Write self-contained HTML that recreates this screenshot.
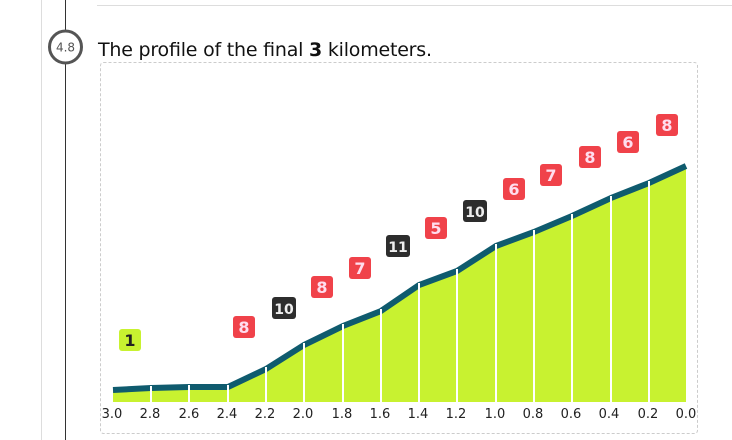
<!DOCTYPE html>
<html><head><meta charset="utf-8"><style>
body{margin:0;width:732px;height:440px;background:#fff;overflow:hidden;font-family:"DejaVu Sans","Liberation Sans",sans-serif;}
</style></head><body>
<svg width="732" height="440" xmlns="http://www.w3.org/2000/svg" style="position:absolute;left:0;top:0">
<line x1="41.5" y1="0" x2="41.5" y2="440" stroke="#ddd"/>
<line x1="65.5" y1="0" x2="65.5" y2="440" stroke="#333"/>
<line x1="97" y1="5.5" x2="732" y2="5.5" stroke="#ddd"/>
<circle cx="65.5" cy="47" r="16" fill="#fff" stroke="#555" stroke-width="3"/>
<text x="65.5" y="51.5" font-size="12" text-anchor="middle" fill="#555" font-family="DejaVu Sans,sans-serif">4.8</text>
<text x="98" y="56" font-size="19" fill="#111" font-family="DejaVu Sans,sans-serif" textLength="334">The profile of the final <tspan font-weight="bold">3</tspan> kilometers.</text>
<rect x="100.5" y="62.5" width="597" height="371" rx="3" fill="none" stroke="#ccc" stroke-dasharray="3,2"/>
<polygon fill="#c8f230" points="113,390 151,388 189,387 228,387 266,369 304,345 343,326 381,311 419,285 457,271 496,246 534,232 572,216 611,198 649,183 686,166 686,402 113,402"/>
<polyline fill="none" stroke="#0f5b6e" stroke-width="6" points="113,390 151,388 189,387 228,387 266,369 304,345 343,326 381,311 419,285 457,271 496,246 534,232 572,216 611,198 649,183 686,166"/>
<g stroke="#fff" stroke-width="2">
<line x1="151" y1="386" x2="151" y2="402"/><line x1="189" y1="385" x2="189" y2="402"/><line x1="228" y1="385" x2="228" y2="402"/><line x1="266" y1="367" x2="266" y2="402"/><line x1="304" y1="343" x2="304" y2="402"/><line x1="343" y1="324" x2="343" y2="402"/><line x1="381" y1="309" x2="381" y2="402"/><line x1="419" y1="283" x2="419" y2="402"/><line x1="457" y1="269" x2="457" y2="402"/><line x1="496" y1="244" x2="496" y2="402"/><line x1="534" y1="230" x2="534" y2="402"/><line x1="572" y1="214" x2="572" y2="402"/><line x1="611" y1="196" x2="611" y2="402"/><line x1="649" y1="181" x2="649" y2="402"/>
</g>
<g font-size="13" text-anchor="middle" fill="#222" font-family="DejaVu Sans,sans-serif">
<text x="112" y="418">3.0</text><text x="150" y="418">2.8</text><text x="189" y="418">2.6</text><text x="227" y="418">2.4</text><text x="265" y="418">2.2</text><text x="303" y="418">2.0</text><text x="342" y="418">1.8</text><text x="380" y="418">1.6</text><text x="418" y="418">1.4</text><text x="456" y="418">1.2</text><text x="495" y="418">1.0</text><text x="533" y="418">0.8</text><text x="571" y="418">0.6</text><text x="609" y="418">0.4</text><text x="648" y="418">0.2</text><text x="686" y="418">0.0</text>
</g>
<g font-size="16" font-weight="bold" text-anchor="middle" font-family="DejaVu Sans,sans-serif">
<rect x="119" y="329" width="22" height="22" rx="3" fill="#c8f230"/><text x="130" y="346" fill="#222">1</text>
<rect x="233" y="316" width="22" height="22" rx="3" fill="#f0424a"/><text x="244" y="333" fill="#fde">8</text>
<rect x="272" y="297" width="24" height="22" rx="3" fill="#2d2d2d"/><text x="284" y="314" fill="#eee" font-size="14">10</text>
<rect x="311" y="276" width="22" height="22" rx="3" fill="#f0424a"/><text x="322" y="293" fill="#fde">8</text>
<rect x="349" y="257" width="22" height="22" rx="3" fill="#f0424a"/><text x="360" y="274" fill="#fde">7</text>
<rect x="386" y="235" width="24" height="22" rx="3" fill="#2d2d2d"/><text x="398" y="252" fill="#eee" font-size="14">11</text>
<rect x="425" y="217" width="22" height="22" rx="3" fill="#f0424a"/><text x="436" y="234" fill="#fde">5</text>
<rect x="463" y="200" width="24" height="22" rx="3" fill="#2d2d2d"/><text x="475" y="217" fill="#eee" font-size="14">10</text>
<rect x="503" y="178" width="22" height="22" rx="3" fill="#f0424a"/><text x="514" y="195" fill="#fde">6</text>
<rect x="540" y="164" width="22" height="22" rx="3" fill="#f0424a"/><text x="551" y="181" fill="#fde">7</text>
<rect x="579" y="146" width="22" height="22" rx="3" fill="#f0424a"/><text x="590" y="163" fill="#fde">8</text>
<rect x="617" y="131" width="22" height="22" rx="3" fill="#f0424a"/><text x="628" y="148" fill="#fde">6</text>
<rect x="656" y="114" width="22" height="22" rx="3" fill="#f0424a"/><text x="667" y="131" fill="#fde">8</text>
</g>
</svg>
</body></html>
